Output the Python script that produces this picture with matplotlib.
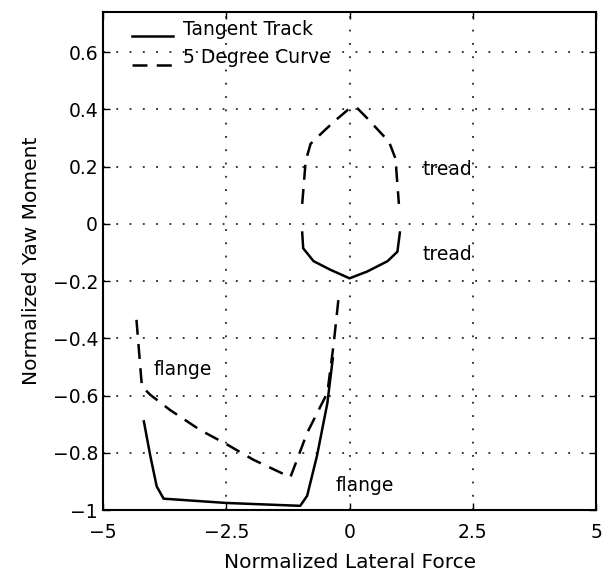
import matplotlib.pyplot as plt
from matplotlib.legend_handler import HandlerLine2D

plt.rcParams['font.family'] = ['DejaVu Sans']

# tangent track (solid)
tan_tread_x = [-0.96, -0.94, -0.73, -0.39, 0.0, 0.36, 0.77, 0.97, 1.02]
tan_tread_y = [-0.03, -0.085, -0.13, -0.16, -0.19, -0.166, -0.13, -0.097, -0.03]
tan_flange_x = [-4.17, -4.04, -3.91, -3.77, -2.5, -1.0, -0.86, -0.66, -0.45, -0.34]
tan_flange_y = [-0.69, -0.81, -0.917, -0.96, -0.975, -0.985, -0.95, -0.81, -0.626, -0.47]

# 5 degree curve (dashed)
curve_tread_x = [-0.96, -0.89, -0.79, -0.55, -0.32, 0.0, 0.16, 0.36, 0.80, 0.93, 1.0]
curve_tread_y = [0.07, 0.22, 0.28, 0.32, 0.357, 0.404, 0.404, 0.369, 0.287, 0.229, 0.07]
curve_flange_x = [-4.32, -4.21, -4.04, -3.64, -3.03, -2.49, -1.95, -1.2, -1.10, -0.86, -0.45, -0.32, -0.22]
curve_flange_y = [-0.335, -0.568, -0.597, -0.65, -0.72, -0.77, -0.824, -0.885, -0.84, -0.73, -0.59, -0.416, -0.254]

xticks = [-5, -2.5, 0, 2.5, 5]
xticklabels = ['\u22125', '\u22122.5', '0', '2.5', '5']
yticks = [-1, -0.8, -0.6, -0.4, -0.2, 0, 0.2, 0.4, 0.6]
yticklabels = ['\u22121', '\u22120.8', '\u22120.6', '\u22120.4', '\u22120.2', '0', '0.2', '0.4', '0.6']


# legend line sits at the text baseline, matlab style
class LowLine(HandlerLine2D):
    def create_artists(self, legend, orig_handle, xdescent, ydescent,
                       width, height, fontsize, trans):
        return super().create_artists(legend, orig_handle, xdescent, ydescent + 12,
                                      width, height, fontsize, trans)


fig = plt.figure(figsize=(6.09, 5.81), dpi=100)
ax = fig.add_axes([0.169, 0.122, 0.810, 0.857])

lw = 1.8
l1, = ax.plot(tan_tread_x, tan_tread_y, 'k-', lw=lw, label='Tangent Track')
ax.plot(tan_flange_x, tan_flange_y, 'k-', lw=lw)
l2, = ax.plot(curve_tread_x, curve_tread_y, 'k', lw=lw, dashes=(6, 3.7), label='5 Degree Curve')
ax.plot(curve_flange_x, curve_flange_y, 'k', lw=lw, dashes=(6, 3.7))

ax.set_xlim(-5, 5)
ax.set_ylim(-1, 0.74)
ax.set_xticks(xticks)
ax.set_xticklabels(xticklabels)
ax.set_yticks(yticks)
ax.set_yticklabels(yticklabels)
ax.tick_params(direction='in', top=True, right=True, length=5, labelsize=13.5, width=1)
ax.tick_params(axis='x', pad=9)
ax.grid(True, color='k', linestyle=(0, (1.2, 7.5)), linewidth=1.1)
for s in ax.spines.values():
    s.set_linewidth(1.5)

ax.text(1.48, 0.19, 'tread', fontsize=13.5, va='center')
ax.text(1.48, -0.108, 'tread', fontsize=13.5, va='center')
ax.text(-3.98, -0.51, 'flange', fontsize=13.5, va='center')
ax.text(-0.28, -0.915, 'flange', fontsize=13.5, va='center')

ax.set_xlabel('Normalized Lateral Force', fontsize=14.5, labelpad=8)
ax.set_ylabel('Normalized Yaw Moment', fontsize=14.5, labelpad=8)

ax.legend(handles=[l1, l2], loc='upper left', frameon=False, fontsize=13.5,
          handlelength=2.2, borderaxespad=0, bbox_to_anchor=(0.044, 1.0),
          labelspacing=0.5, handletextpad=0.5,
          handler_map={l1: LowLine(), l2: LowLine()})

plt.savefig('out.png', dpi=100)
